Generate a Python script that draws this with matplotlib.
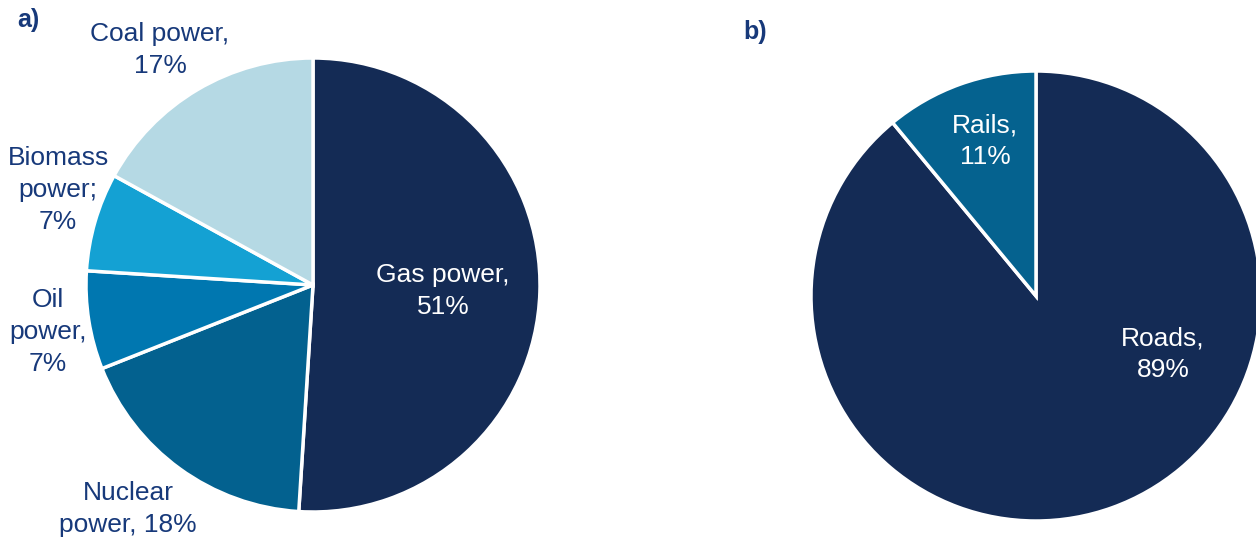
import matplotlib
matplotlib.use("Agg")
import matplotlib.pyplot as plt

plt.rcParams["font.family"] = ["Liberation Sans", "DejaVu Sans"]

# -------------------------
# Data
# -------------------------

power_labels = ["Gas power,\n51%", "Nuclear\npower, 18%", "Oil\npower,\n7%",
                "Biomass\npower;\n7%", "Coal power,\n17%"]
power_values = [51, 18, 7, 7, 17]

transport_labels = ["Roads,\n89%", "Rails,\n11%"]
transport_values = [89, 11]

# -------------------------
# Styles / layout (pixel coords, y from top)
# -------------------------

W, H = 1256, 540
NAVY = "#142b55"
TXT = "#17397a"

power_colors = [NAVY, "#03618f", "#0077b0", "#14a1d3", "#b5d9e4"]
transport_colors = [NAVY, "#05628f"]

power_pos = [(443, 291), (128, 509), (48, 332), (58, 190), (160, 50)]
power_txt = ["white", TXT, TXT, TXT, TXT]
transport_pos = [(1163, 354), (985, 141)]

fig = plt.figure(figsize=(W / 100, H / 100), dpi=100)
ax = fig.add_axes([0, 0, 1, 1])

ax.pie(power_values, colors=power_colors, startangle=90, counterclock=False,
       center=(313, H - 285), radius=227, frame=True,
       wedgeprops=dict(edgecolor="white", linewidth=2.5))
ax.pie(transport_values, colors=transport_colors, startangle=90, counterclock=False,
       center=(1036, H - 296), radius=225, frame=True,
       wedgeprops=dict(edgecolor="white", linewidth=2.5))

for lab, (x, y), c in zip(power_labels, power_pos, power_txt):
    ax.text(x, H - y, lab, ha="center", va="center", color=c, fontsize=19,
            linespacing=1.4)
for lab, (x, y) in zip(transport_labels, transport_pos):
    ax.text(x, H - y, lab, ha="center", va="center", color="white", fontsize=19,
            linespacing=1.4)

ax.text(28, H - 20, "a)", ha="center", va="center", color=TXT, fontsize=18,
        fontweight="bold")
ax.text(755, H - 32, "b)", ha="center", va="center", color=TXT, fontsize=18,
        fontweight="bold")

ax.set_xlim(0, W)
ax.set_ylim(0, H)
ax.set_aspect("equal")
ax.axis("off")

fig.savefig("out.png", dpi=100)
